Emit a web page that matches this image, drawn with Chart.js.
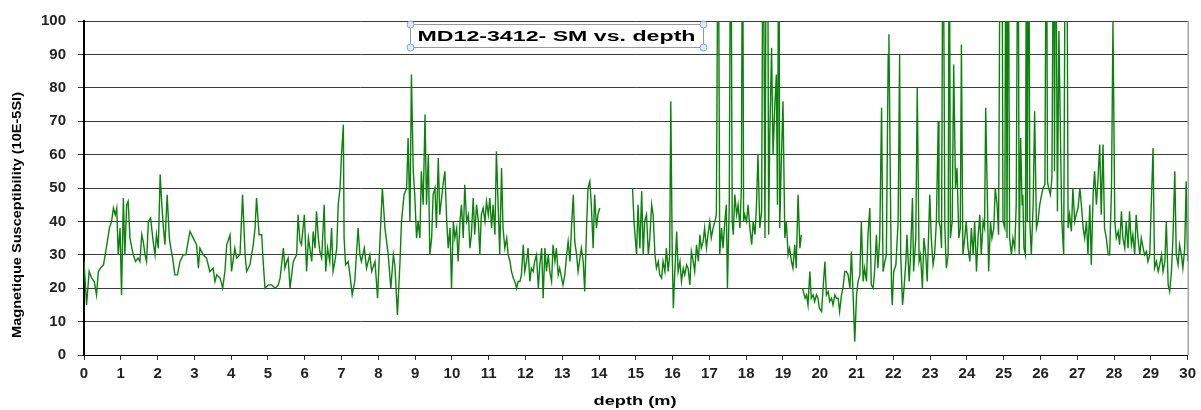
<!DOCTYPE html>
<html>
<head>
<meta charset="utf-8">
<script src="https://cdn.jsdelivr.net/npm/chart.js@4"></script>
<style>
  body { margin: 0; background: #fff; }
</style>
</head>
<body>
<canvas id="smChart" width="1201" height="410"></canvas>
<script>
    // depth (m) and magnetic susceptibility read off the core log; null = no data
    const depth = [
        0.00,0.07,0.14,0.21,0.28,0.34,0.39,0.45,0.53,0.62,0.69,0.75,0.80,0.85,0.89,0.93,0.98,
        1.02,1.07,1.11,1.16,1.20,1.25,1.30,1.34,1.40,1.47,1.52,1.57,1.61,1.66,1.70,1.75,1.81,1.88,1.93,1.97,
        2.02,2.07,2.11,2.16,2.20,2.26,2.32,2.36,2.41,2.47,2.54,2.61,2.70,2.77,2.83,2.88,2.97,
        3.06,3.11,3.15,3.24,3.33,3.42,3.51,3.56,3.61,3.70,3.77,3.83,3.88,3.97,
        4.01,4.10,4.15,4.24,4.31,4.38,4.42,4.51,4.60,4.65,4.69,4.76,4.83,4.87,4.92,
        5.01,5.10,5.20,5.28,5.33,5.42,5.46,5.51,5.55,5.60,5.69,5.78,5.82,5.87,5.91,5.99,
        6.05,6.10,6.14,6.19,6.23,6.28,6.32,6.37,6.41,6.46,6.53,6.57,6.62,6.68,6.73,6.77,6.82,6.87,6.91,6.96,
        7.00,7.05,7.07,7.11,7.18,7.23,7.29,7.36,7.45,7.50,7.54,7.62,7.68,7.77,7.82,7.91,7.98,
        8.04,8.11,8.18,8.27,8.34,8.41,8.45,8.52,8.59,8.63,8.70,8.77,8.81,8.86,8.90,8.95,8.99,
        9.04,9.08,9.13,9.17,9.22,9.27,9.31,9.36,9.40,9.45,9.49,9.54,9.58,9.63,9.67,9.72,9.77,9.81,9.86,9.90,9.95,9.99,
        10.04,10.08,10.13,10.17,10.22,10.26,10.31,10.35,10.40,10.45,10.49,10.53,10.58,10.62,10.67,10.72,10.76,10.80,10.85,10.90,10.94,10.99,
        11.03,11.08,11.12,11.17,11.21,11.26,11.30,11.35,11.39,11.44,11.49,11.53,11.58,11.62,11.67,11.71,11.76,11.80,11.85,11.89,11.94,11.98,
        12.03,12.07,12.12,12.16,12.21,12.25,12.30,12.35,12.39,12.44,12.48,12.53,12.57,12.62,12.66,12.71,12.75,12.80,12.84,12.89,12.93,
        13.02,13.07,13.12,13.16,13.21,13.25,13.30,13.34,13.39,13.43,13.48,13.52,13.57,13.61,13.66,13.70,13.75,13.79,13.84,13.88,13.93,13.97,
        14.02,14.50,14.91,14.95,
        15.02,15.06,15.11,15.16,15.20,15.24,15.29,15.34,15.38,15.43,15.47,15.52,15.56,15.61,15.65,15.70,15.74,15.79,15.83,15.88,15.92,15.95,15.99,
        16.02,16.06,16.11,16.15,16.20,16.24,16.29,16.33,16.38,16.42,16.47,16.51,16.56,16.60,16.65,16.70,16.74,16.78,16.83,16.87,16.92,16.96,
        17.01,17.05,17.10,17.15,17.19,17.24,17.28,17.33,17.37,17.42,17.46,17.49,17.54,17.58,17.62,17.65,17.69,17.74,17.78,17.83,17.87,17.90,17.93,17.96,
        18.01,18.05,18.10,18.15,18.19,18.24,18.28,18.32,18.37,18.42,18.46,18.51,18.55,18.58,18.61,18.64,18.69,18.73,18.78,18.82,18.85,18.89,18.91,18.96,
        19.00,19.05,19.09,19.14,19.18,19.23,19.27,19.32,19.36,19.41,19.46,19.50,19.52,19.53,19.60,19.64,19.68,19.73,19.77,19.82,19.86,19.91,19.95,19.99,
        20.05,20.09,20.14,20.18,20.23,20.27,20.32,20.36,20.41,20.45,20.50,20.54,20.59,20.63,20.68,20.72,20.77,20.82,20.86,20.91,20.95,
        21.00,21.04,21.09,21.13,21.18,21.22,21.27,21.31,21.36,21.40,21.45,21.49,21.54,21.58,21.63,21.68,21.72,21.77,21.81,21.86,21.88,21.92,21.95,21.97,
        22.01,22.07,22.13,22.17,22.20,22.25,22.29,22.34,22.37,22.43,22.46,22.52,22.55,22.61,22.65,22.70,22.74,22.79,22.83,22.88,22.92,22.99,
        23.03,23.08,23.12,23.17,23.22,23.24,23.28,23.31,23.35,23.40,23.44,23.49,23.52,23.55,23.60,23.64,23.69,23.73,23.78,23.82,23.85,23.89,23.94,23.98,
        24.03,24.08,24.12,24.17,24.21,24.26,24.30,24.35,24.39,24.44,24.48,24.51,24.55,24.59,24.64,24.68,24.73,24.77,24.82,24.86,24.91,24.95,24.98,
        25.03,25.06,25.09,25.12,25.16,25.21,25.25,25.30,25.34,25.39,25.42,25.46,25.50,25.52,25.55,25.59,25.62,25.64,25.68,25.71,25.75,25.80,25.84,25.89,25.93,25.98,
        26.03,26.07,26.12,26.16,26.19,26.22,26.27,26.31,26.36,26.38,26.41,26.46,26.50,26.55,26.58,26.63,26.68,26.71,26.75,26.79,26.84,26.88,26.93,26.97,
        27.02,27.07,27.11,27.16,27.20,27.25,27.29,27.34,27.38,27.43,27.47,27.52,27.56,27.61,27.65,27.70,27.74,27.79,27.84,27.88,27.93,27.97,
        28.02,28.06,28.11,28.15,28.20,28.24,28.29,28.33,28.38,28.42,28.47,28.51,28.56,28.60,28.65,28.70,28.74,28.79,28.83,28.88,28.92,28.97,
        29.01,29.06,29.10,29.15,29.20,29.24,29.29,29.33,29.38,29.42,29.47,29.51,29.56,29.60,29.65,29.69,29.74,29.78,29.83,29.87,29.92,29.96,30.00
    ];
    const sm = [
        28,15,25,23,22,18,25,26,27,33,38,40,44,42,44,30,38,
        18,47,30,45,46,35,32,30,28,29,28,36,34,30,28,40,41,34,30,36,
        32,54,46,38,33,48,35,32,29,24,24,28,30,30,34,37,35,
        33,26,32,30,29,25,26,22,24,23,20,25,33,36,
        25,32,29,30,48,30,25,27,33,38,47,36,36,28,20,
        21,21,20,21,23,32,26,28,29,20,28,30,42,34,33,42,
        25,35,32,28,37,32,43,35,31,29,45,25,32,28,38,25,28,32,45,50,
        60,69,35,27,28,24,18,22,38,30,28,32,26,30,25,28,17,
        33,50,38,30,20,30,27,12,28,40,48,50,65,40,84,55,48,
        35,40,35,55,45,72,45,60,30,35,48,50,38,59,42,47,52,55,40,32,38,20,
        40,35,38,28,40,45,35,51,40,42,32,36,47,36,45,40,30,42,44,40,46,42,
        47,38,45,36,61,44,30,56,38,32,35,30,28,25,23,22,20,22,22,24,33,25,
        28,32,22,26,25,28,30,20,27,32,17,32,25,30,25,22,33,28,32,24,26,
        21,24,30,34,28,38,48,34,30,25,29,32,28,19,38,50,52,45,32,48,38,42,
        44,null,50,40,
        30,45,32,49,30,40,42,30,35,45,42,30,26,28,24,23,28,25,32,25,30,76,30,
        14,25,37,25,28,22,26,24,27,26,21,31,28,25,33,28,36,32,34,38,32,36,
        40,35,38,40,42,150,30,38,32,40,45,20,45,150,40,36,48,42,45,38,50,150,40,42,
        40,45,38,33,40,36,45,60,38,43,150,35,150,150,36,65,92,60,75,84,45,150,38,60,
        76,35,40,30,32,28,26,33,26,48,32,36,null,20,17,18,15,25,17,18,16,18,17,14,
        13,20,28,18,19,16,17,15,18,17,17,13,18,20,25,25,24,20,31,17,4,
        18,22,24,40,22,26,22,36,44,21,20,25,36,26,35,74,25,28,30,90,96,50,20,15,
        25,27,40,90,30,15,20,28,36,22,28,47,25,35,80,28,30,20,35,30,22,48,
        35,27,30,40,70,40,38,32,150,38,26,30,150,35,40,87,50,56,35,38,93,30,35,40,
        32,28,38,30,40,25,35,42,30,40,38,74,50,25,40,35,38,50,45,36,150,150,40,
        38,150,35,150,35,30,35,32,45,150,30,65,45,48,32,30,150,40,150,40,30,45,73,38,40,45,
        48,50,51,150,52,50,48,53,150,55,150,43,97,60,40,30,150,150,38,42,37,50,40,42,
        44,50,45,38,35,40,30,45,27,48,55,45,52,63,42,63,38,35,30,30,50,100,
        40,35,37,33,43,35,32,40,32,43,33,36,30,42,35,30,35,32,30,31,28,30,
        45,62,26,28,25,27,30,25,28,40,21,19,25,35,55,30,27,33,30,26,32,52,28
    ];
    const xTicks = [0, 30, 1];
    const yTicks = [0, 100, 10];
    const chartTitle = "MD12-3412- SM vs. depth";
    const xTitle = "depth (m)";
    const yTitle = "Magnetique Susceptibility (10E-5SI)";

    const points = depth.map((d, i) => ({ x: d, y: sm[i] }));

    // draws text squeezed or stretched along its direction to a given length
    function fitText(ctx, text, x, y, len, font, angle) {
        ctx.save();
        ctx.font = font;
        ctx.fillStyle = "#000";
        ctx.textAlign = "center";
        ctx.textBaseline = "middle";
        const w = ctx.measureText(text).width;
        ctx.translate(x, y);
        ctx.rotate(angle);
        ctx.scale(len / w, 1);
        ctx.fillText(text, 0, 0);
        ctx.restore();
    }

    const decorations = {
        id: "decorations",
        afterDraw(chart) {
            const ctx = chart.ctx;
            const a = chart.chartArea;
            ctx.save();
            ctx.strokeStyle = "#777";
            ctx.lineWidth = 1;
            ctx.beginPath();
            ctx.moveTo(a.right + 0.5, a.top);
            ctx.lineTo(a.right + 0.5, a.bottom);
            ctx.stroke();

            // title box with selection handles
            const bx = 410, by = 24, bw = 293, bh = 23;
            ctx.fillStyle = "#fff";
            ctx.fillRect(bx, by, bw, bh);
            ctx.strokeStyle = "#999";
            ctx.strokeRect(bx + 0.5, by + 0.5, bw, bh);
            fitText(ctx, chartTitle, bx + bw / 2, by + bh / 2 + 1, 278, "bold 15px 'Liberation Sans', Arial", 0);
            [[bx, by], [bx + bw, by], [bx, by + bh], [bx + bw, by + bh]].forEach(([cx, cy]) => {
                ctx.beginPath();
                ctx.arc(cx + 0.5, cy + 0.5, 3.5, 0, Math.PI * 2);
                ctx.fillStyle = "#dfe9f4";
                ctx.fill();
                ctx.strokeStyle = "#86a6c8";
                ctx.stroke();
            });

            fitText(ctx, xTitle, 635, 402, 83, "bold 12px 'Liberation Sans', Arial", 0);
            fitText(ctx, yTitle, 18, 215, 246, "bold 12px 'Liberation Sans Narrow', 'Liberation Sans', Arial", -Math.PI / 2);
            ctx.restore();
        }
    };

    const ctx = document.getElementById("smChart").getContext("2d");
    new Chart(ctx, {
        type: "line",
        data: {
            datasets: [{
                label: "SM",
                data: points,
                borderColor: "#0b820b",
                borderWidth: 1.4,
                pointRadius: 0,
                tension: 0,
                spanGaps: false
            }]
        },
        options: {
            responsive: false,
            animation: false,
            layout: { padding: { top: 20, right: 13, left: 0, bottom: 0 } },
            plugins: {
                legend: { display: false },
                tooltip: { enabled: false }
            },
            scales: {
                x: {
                    type: "linear",
                    min: xTicks[0],
                    max: xTicks[1],
                    afterFit(scale) { scale.height = 55; },
                    ticks: {
                        stepSize: xTicks[2],
                        padding: 5,
                        color: "#222",
                        font: { family: "'Liberation Sans', Arial", size: 15, weight: "bold" }
                    },
                    grid: { drawOnChartArea: false, tickLength: 5, color: "#333" },
                    border: { color: "#000", width: 1 }
                },
                y: {
                    min: yTicks[0],
                    max: yTicks[1],
                    afterFit(scale) { scale.width = 84; },
                    ticks: {
                        stepSize: yTicks[2],
                        padding: 12,
                        color: "#222",
                        font: { family: "'Liberation Sans', Arial", size: 15, weight: "bold" }
                    },
                    grid: { color: "#3a3a3a", lineWidth: 1, tickLength: 6 },
                    border: { color: "#000", width: 2 }
                }
            }
        },
        plugins: [decorations]
    });
</script>
</body>
</html>
